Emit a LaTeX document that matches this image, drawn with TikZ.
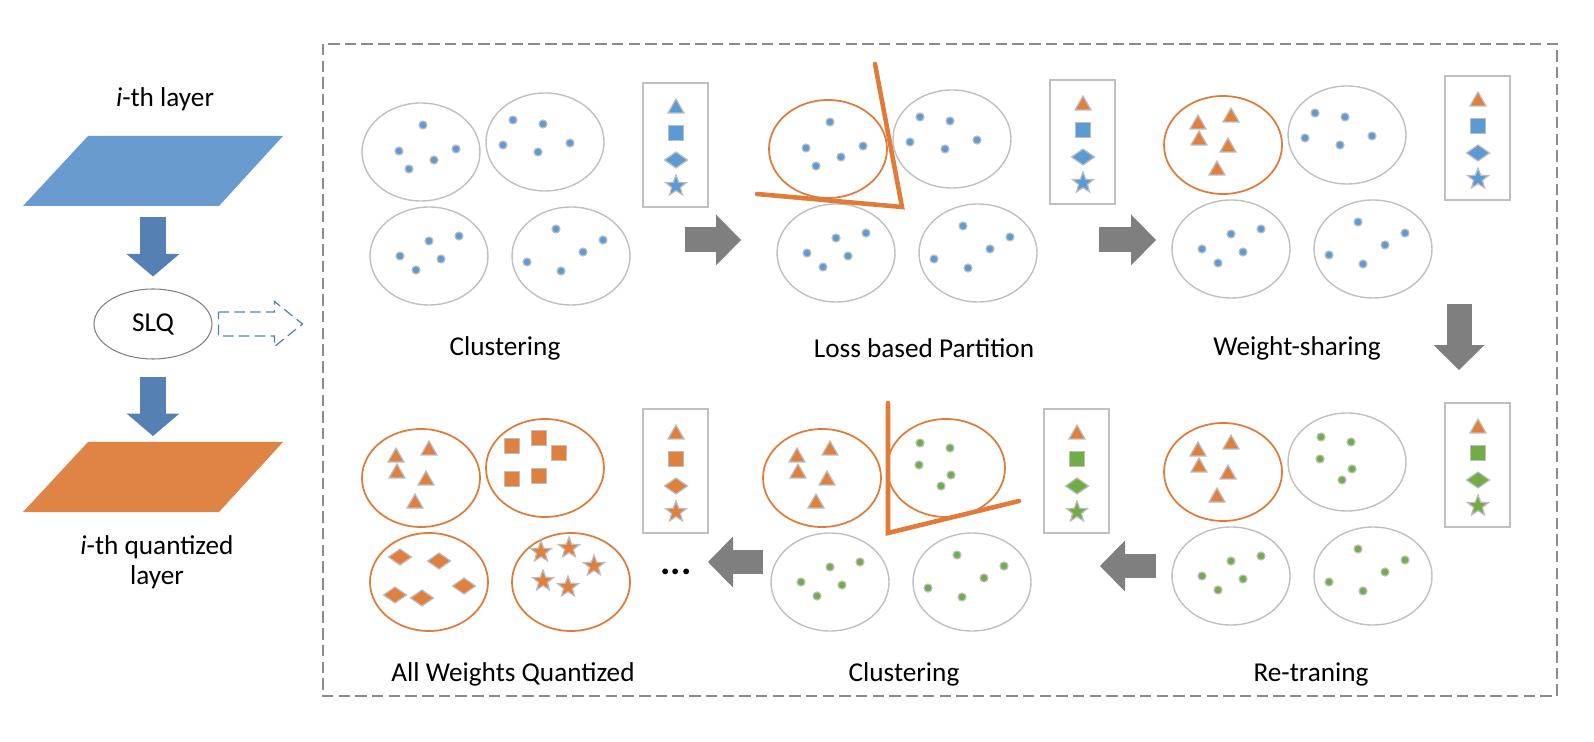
\documentclass[tikz,border=0pt]{standalone}
\usepackage{fontspec}
\setmainfont{Carlito}
\usetikzlibrary{
    arrows.meta,
    calc,
    shapes.geometric
}
\definecolor{cblue}{HTML}{5B9BD5}
\definecolor{corange}{HTML}{E0803F}
\definecolor{cgreen}{HTML}{70AD47}
\definecolor{layerblue}{HTML}{6A9BD0}
\definecolor{layerorange}{HTML}{E08445}
\definecolor{arrowblue}{HTML}{5480B4}
\definecolor{arrowgray}{HTML}{7F7F7F}
\definecolor{grayline}{HTML}{C0C0C0}
\definecolor{symedge}{HTML}{BDBDBD}
\definecolor{cutorange}{HTML}{E07B39}
\definecolor{framegray}{HTML}{8C8C8C}
\tikzset{
    caption/.style={font=\fontsize{15.5}{17}\selectfont},
    slqnode/.style={ellipse, draw=arrowgray, line width=0.6pt,
        minimum width=2.36cm, minimum height=1.4cm, inner sep=0pt, font=\fontsize{15.5}{17}\selectfont},
    cluster/.style={draw=grayline, line width=0.8pt},
    chosen/.style={draw=cutorange, line width=1pt},
    bookbox/.style={draw=grayline, line width=1.1pt},
    symbol/.style={draw=symedge, line width=0.7pt},
    cut/.style={draw=cutorange, line width=2.6pt, line cap=round},
    frame/.style={draw=framegray, line width=1pt, dash pattern=on 6.5pt off 3pt},
    layerarrow/.style={draw=arrowblue, line width=0.52cm,
        -{Triangle[width=1.06cm, length=0.45cm, line width=0pt]}},
    flowarrow/.style={draw=arrowgray, line width=0.5cm,
        -{Triangle[width=1.02cm, length=0.5cm, line width=0pt]}},
    hintarrow/.style={draw=arrowblue, line width=0.7pt, dash pattern=on 6pt off 3pt},
    wdot/.pic={\path[symbol, pic actions] (0,0) circle [radius=4];},
    wtri/.pic={\path[symbol, pic actions] (-8,6) -- (8,6) -- (0,-8) -- cycle;},
    wsq/.pic={\path[symbol, pic actions] (-7.5,-7.5) rectangle (7.5,7.5);},
    wdia/.pic={\path[symbol, pic actions] (-11.5,0) -- (0,-8) -- (11.5,0) -- (0,8) -- cycle;},
    wstar/.pic={\path[symbol, pic actions] (-90:11)
        \foreach \a/\r in {-54/4.6,-18/11,18/4.6,54/11,90/4.6,126/11,162/4.6,198/11,234/4.6} {-- (\a:\r)} -- cycle;}
}
% weight positions inside a cluster (offsets from its centre)
\newcommand{\ptsA}{2/-27, -22/-1, -12/17, 13/8, 35/-3}
\newcommand{\ptsB}{-32/-22, -2/-18, -42/3, -7/10, 25/1}
\newcommand{\ptsC}{0/-15, 30/-20, -29/0, 12/3, -13/14}
\newcommand{\ptsD}{-15/-27, 32/-16, 12/-4, -44/6, -10/15}
\newcommand{\ptsG}{-26/-25, 4/-20, -27/-3, 5/7, -5/18}
\newcommand{\ptsT}{-25/-22, 8/-29, -24/-6, 5/1, -6/24}
\newcommand{\ptsS}{-33/-22, -6/-30, 14/-15, -33/11, -6/8}
\newcommand{\ptsR}{-29/-25, 10/-21, 35/4, -34/13, -7/16}
\newcommand{\ptsZ}{-30/-30, -2/-34, 23/-16, -28/-1, -3/5}
% #1 ring style, #2 #3 centre, #4 weight pic, #5 colour, #6 positions
\newcommand{\wcluster}[6]{%
    \draw[#1] (#2,#3) ellipse [x radius=59, y radius=49];
    \foreach \u/\v in #6 {\pic[fill=#5] at ({#2+\u},{#3+\v}) {#4};}
}
% #1 first entry colour, #2 other entries colour
\newcommand{\codebook}[2]{%
    \draw[bookbox] (643,83) rectangle ++(65,124);
    \pic[fill=#1] at (676,107) {wtri};
    \pic[fill=#2] at (676,133) {wsq};
    \pic[fill=#2] at (676,160) {wdia};
    \pic[fill=#2] at (676,186) {wstar};
}

\begin{document}
\begin{tikzpicture}[x=0.02cm, y=-0.02cm]
    \useasboundingbox (0,0) rectangle (1594,742);

    % layer -> SLQ -> quantized layer
    \fill[layerblue] (23,206) -- (88,136) -- (283,136) -- (219,206) -- cycle;
    \coordinate (layer) at (153,171);
    \node[caption] (layertxt) at (165,99) {\textit{i}-th layer};
    \node[slqnode] (slq) at (153,324) {SLQ};
    \fill[layerorange] (23,512) -- (88,442) -- (283,442) -- (219,512) -- cycle;
    \coordinate (qlayer) at (153,477);
    \node[caption, align=center] (qlayertxt) at (157,562) {\textit{i}-th quantized\\layer};
    \draw[layerarrow, shorten <=0.92cm, shorten >=0.24cm] (layer) -- (slq);
    \draw[layerarrow, shorten <=0.34cm, shorten >=0.82cm] (slq) -- (qlayer);
    \draw[hintarrow] ($(slq.east)+(6,-12)$) -- ++(56,0) -- ++(0,-10.5) -- ++(28,22.5)
        -- ++(-28,22.5) -- ++(0,-10.5) -- ++(-56,0) -- cycle;

    \draw[frame] (323,44) rectangle (1557,696);

    % clustering
    \begin{scope}
        \wcluster{cluster}{421}{152}{wdot}{cblue}{\ptsA}
        \wcluster{cluster}{545}{142}{wdot}{cblue}{\ptsB}
        \wcluster{cluster}{429}{256}{wdot}{cblue}{\ptsC}
        \wcluster{cluster}{571}{256}{wdot}{cblue}{\ptsD}
        \codebook{cblue}{cblue}
    \end{scope}
    % loss based partition
    \begin{scope}[shift={(407,-3)}]
        \wcluster{chosen}{421}{152}{wdot}{cblue}{\ptsA}
        \wcluster{cluster}{545}{142}{wdot}{cblue}{\ptsB}
        \wcluster{cluster}{429}{256}{wdot}{cblue}{\ptsC}
        \wcluster{cluster}{571}{256}{wdot}{cblue}{\ptsD}
        \codebook{corange}{cblue}
    \end{scope}
    \draw[cut] (875,64) -- (902,207) -- (757,194);
    % weight-sharing
    \begin{scope}[shift={(802,-7)}]
        \wcluster{chosen}{421}{152}{wtri}{corange}{\ptsT}
        \wcluster{cluster}{545}{142}{wdot}{cblue}{\ptsB}
        \wcluster{cluster}{429}{256}{wdot}{cblue}{\ptsC}
        \wcluster{cluster}{571}{256}{wdot}{cblue}{\ptsD}
        \codebook{corange}{cblue}
    \end{scope}
    % re-training
    \begin{scope}[shift={(802,320)}]
        \wcluster{chosen}{421}{152}{wtri}{corange}{\ptsT}
        \wcluster{cluster}{545}{142}{wdot}{cgreen}{\ptsG}
        \wcluster{cluster}{429}{256}{wdot}{cgreen}{\ptsC}
        \wcluster{cluster}{571}{256}{wdot}{cgreen}{\ptsD}
        \codebook{corange}{cgreen}
    \end{scope}
    % clustering again
    \begin{scope}[shift={(401,326)}]
        \wcluster{chosen}{421}{152}{wtri}{corange}{\ptsT}
        \wcluster{chosen}{545}{142}{wdot}{cgreen}{\ptsG}
        \wcluster{cluster}{429}{256}{wdot}{cgreen}{\ptsC}
        \wcluster{cluster}{571}{256}{wdot}{cgreen}{\ptsD}
        \codebook{corange}{cgreen}
    \end{scope}
    \draw[cut] (888,403) -- (888,533) -- (1019,501);
    % all weights quantized
    \begin{scope}[shift={(0,326)}]
        \wcluster{chosen}{421}{152}{wtri}{corange}{\ptsT}
        \wcluster{chosen}{545}{142}{wsq}{corange}{\ptsS}
        \wcluster{chosen}{429}{256}{wdia}{corange}{\ptsR}
        \wcluster{chosen}{571}{256}{wstar}{corange}{\ptsZ}
        \codebook{corange}{corange}
    \end{scope}

    \node[caption] (cap1) at (505,348) {Clustering};
    \node[caption] (cap2) at (924,348) {Loss based Partition};
    \node[caption] (cap3) at (1297,348) {Weight-sharing};
    \node[caption] (cap4) at (1311,674) {Re-traning};
    \node[caption] (cap5) at (904,674) {Clustering};
    \node[caption] (cap6) at (513,674) {All Weights Quantized};
    \node[font=\fontsize{22}{22}\selectfont\bfseries] (more) at (676,572) {...};

    % steps
    \coordinate (r1a) at (685,240);  \coordinate (r1b) at (741,240);
    \coordinate (r2a) at (1099,240); \coordinate (r2b) at (1156,240);
    \coordinate (d1a) at (1459,304); \coordinate (d1b) at (1459,370);
    \coordinate (l1a) at (1156,566); \coordinate (l1b) at (1100,566);
    \coordinate (l2a) at (763,562);  \coordinate (l2b) at (708,562);
    \draw[flowarrow] (r1a) -- (r1b);
    \draw[flowarrow] (r2a) -- (r2b);
    \draw[flowarrow] (d1a) -- (d1b);
    \draw[flowarrow] (l1a) -- (l1b);
    \draw[flowarrow] (l2a) -- (l2b);
\end{tikzpicture}
\end{document}
